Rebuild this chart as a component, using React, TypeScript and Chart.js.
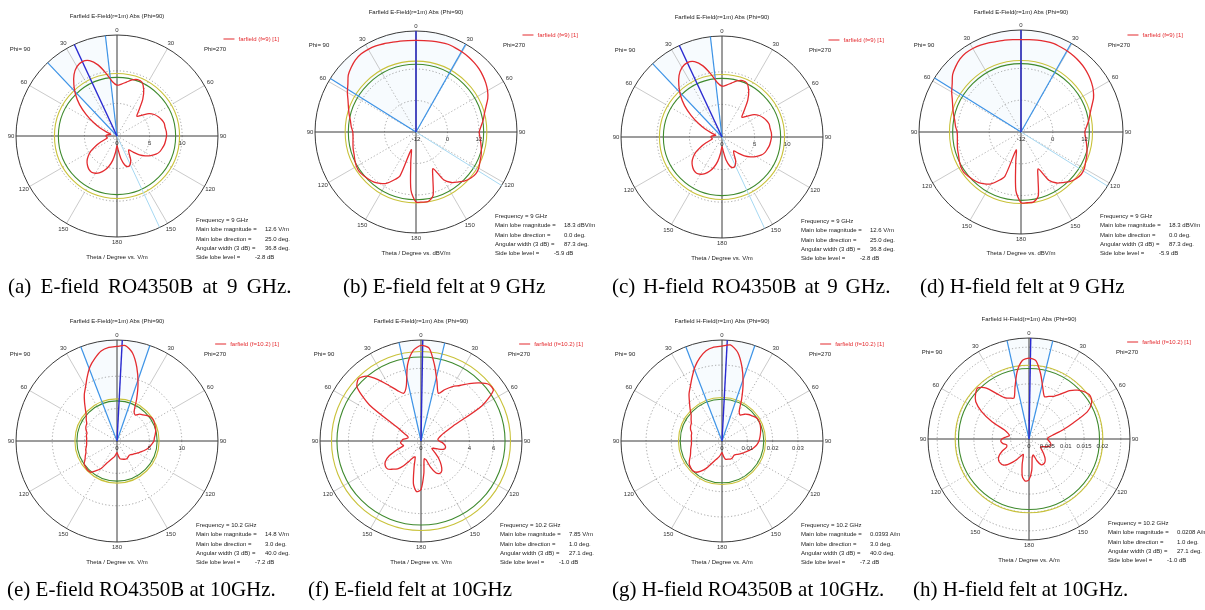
import React, { useEffect, useRef } from "react";
import { Chart, registerables } from "chart.js";

Chart.register(...registerables);

const SANS = '"Liberation Sans", Arial, sans-serif';
const SERIF = '"Liberation Serif", "Times New Roman", serif';
const RED = "#e42b2f";

// Theta categories: screen angle clockwise from the top, 5 degree steps (0..355)
const thetaDeg: string[] = Array.from({ length: 72 }, (_, i) => String(i * 5));

// (a) E-field RO4350B 9 GHz, V/m
const eFieldRO4350B_9GHz = [
  7.8, 8.0, 8.4, 8.9, 9.2, 9.1, 8.2, 6.9, 5.3, 4.3,
  4.9, 6.0, 6.6, 7.0, 7.3, 7.5, 7.5, 7.6, 7.6, 7.5,
  7.4, 7.2, 7.0, 6.6, 6.0, 5.3, 4.5, 3.5, 2.8, 3.2,
  4.2, 4.8, 5.0, 4.6, 3.6, 2.2, 1.5, 2.5, 3.8, 4.8,
  5.6, 6.2, 6.6, 6.8, 6.7, 6.4, 6.0, 5.4, 4.6, 3.6,
  2.6, 1.8, 1.5, 1.6, 1.7, 1.6, 1.2, 1.0, 1.5, 2.8,
  4.2, 5.8, 7.5, 9.0, 10.3, 11.5, 12.3, 12.6, 12.3, 11.3,
  9.8, 8.4,
];
// (b) E-field felt 9 GHz, dBV/m
const eFieldFelt_9GHz = [
  22.9, 23.0, 23.2, 23.4, 23.6, 23.4, 23.2, 22.9, 22.5, 22.0,
  21.3, 20.5, 19.5, 18.2, 16.4, 15.0, 14.0, 12.9, 12.1, 12.5,
  13.1, 13.8, 14.4, 14.9, 15.6, 15.8, 15.3, 14.4, 12.9, 11.5,
  9.0, 3.4, 6.8, 13.1, 14.9, 14.8, 14.7, 10.2, -0.6, -5.0,
  5.8, 8.3, 10.6, 11.9, 12.9, 13.5, 14.0, 14.4, 14.2, 13.7,
  13.1, 12.8, 12.4, 12.1, 12.1, 12.8, 13.4, 14.4, 15.4, 16.6,
  18.2, 19.7, 21.7, 22.9, 23.9, 24.4, 24.4, 24.2, 23.8, 23.4,
  23.2, 23.0,
];
// (c) H-field RO4350B 9 GHz (same trace as (a) in the figure)
const hFieldRO4350B_9GHz = eFieldRO4350B_9GHz;
// (d) H-field felt 9 GHz (same trace as (b) in the figure)
const hFieldFelt_9GHz = eFieldFelt_9GHz;
// (e) E-field RO4350B 10.2 GHz, V/m
const eFieldRO4350B_10GHz = [
  14.6, 14.8, 13.8, 11.8, 9.5, 7.2, 5.3, 4.9, 5.4, 5.7,
  6.1, 6.4, 6.5, 6.4, 6.3, 6.2, 6.0, 5.8, 5.7, 5.4,
  5.1, 4.8, 4.4, 4.0, 3.7, 3.4, 3.2, 3.0, 2.9, 3.0,
  3.1, 3.1, 3.0, 2.9, 2.8, 2.3, 1.8, 2.1, 2.5, 2.8,
  3.2, 3.8, 4.9, 5.6, 6.3, 6.4, 6.3, 6.2, 5.7, 5.4,
  5.1, 5.0, 4.8, 4.7, 4.7, 4.7, 4.8, 4.8, 5.1, 5.3,
  5.4, 5.8, 6.2, 6.9, 7.8, 8.8, 9.7, 10.9, 12.2, 13.2,
  14.1, 14.5,
];
// (f) E-field felt 10.2 GHz, V/m
const eFieldFelt_10GHz = [
  7.9, 7.7, 6.4, 5.1, 4.2, 4.7, 5.2, 5.6, 6.2, 6.8,
  7.3, 7.3, 5.8, 2.9, 2.1, 1.7, 1.5, 1.4, 1.5, 1.8,
  2.0, 2.1, 2.0, 1.6, 1.2, 1.1, 1.5, 2.1, 2.6, 3.0,
  3.1, 2.9, 2.3, 1.6, 1.5, 2.7, 4.0, 4.2, 3.6, 2.2,
  1.4, 1.5, 1.9, 2.5, 3.0, 3.3, 3.6, 3.6, 3.4, 2.9,
  2.1, 1.5, 1.6, 1.7, 1.6, 1.5, 1.2, 1.1, 1.2, 1.6,
  2.3, 5.2, 6.9, 7.3, 7.0, 6.2, 5.3, 4.6, 4.2, 4.7,
  6.4, 7.5,
];
// (g) H-field RO4350B 10.2 GHz, A/m
const hFieldRO4350B_10GHz = [
  0.0375, 0.0381, 0.0356, 0.0304, 0.0244, 0.0184, 0.0136, 0.0125, 0.0138, 0.0148,
  0.0155, 0.0163, 0.0166, 0.0165, 0.0162, 0.0158, 0.0154, 0.0150, 0.0146, 0.0140,
  0.0132, 0.0123, 0.0112, 0.0103, 0.0095, 0.0088, 0.0082, 0.0076, 0.0074, 0.0076,
  0.0079, 0.0079, 0.0076, 0.0075, 0.0072, 0.0059, 0.0046, 0.0053, 0.0063, 0.0072,
  0.0082, 0.0099, 0.0125, 0.0145, 0.0161, 0.0165, 0.0162, 0.0158, 0.0148, 0.0138,
  0.0132, 0.0128, 0.0124, 0.0121, 0.0121, 0.0121, 0.0123, 0.0124, 0.0132, 0.0137,
  0.0140, 0.0149, 0.0159, 0.0178, 0.0200, 0.0227, 0.0250, 0.0279, 0.0312, 0.0340,
  0.0362, 0.0372,
];
// (h) H-field felt 10.2 GHz, A/m
const hFieldFelt_10GHz = [
  0.0220, 0.0214, 0.0181, 0.0145, 0.0123, 0.0128, 0.0134, 0.0149, 0.0172, 0.0188,
  0.0199, 0.0204, 0.0197, 0.0175, 0.0128, 0.0095, 0.0068, 0.0054, 0.0050, 0.0054,
  0.0059, 0.0062, 0.0059, 0.0050, 0.0041, 0.0038, 0.0045, 0.0056, 0.0068, 0.0076,
  0.0079, 0.0077, 0.0063, 0.0045, 0.0050, 0.0086, 0.0111, 0.0115, 0.0104, 0.0072,
  0.0045, 0.0050, 0.0063, 0.0077, 0.0091, 0.0100, 0.0102, 0.0101, 0.0095, 0.0082,
  0.0065, 0.0063, 0.0072, 0.0077, 0.0074, 0.0063, 0.0054, 0.0059, 0.0071, 0.0111,
  0.0149, 0.0177, 0.0190, 0.0197, 0.0181, 0.0149, 0.0129, 0.0123, 0.0119, 0.0147,
  0.0186, 0.0214,
];

// Radial tick labels
const ticksVm = [0, 5, 10];
const ticksDb = [-12, 0, 12];
const ticksFelt10 = [0, 4, 6];
const ticksAm = [0, 0.01, 0.02, 0.03];
const ticksAmFelt = [0, 0.005, 0.01, 0.015, 0.02];

// Info boxes
const info9RO = ["9 GHz", "12.6 V/m", "25.0 deg.", "36.8 deg.", "-2.8 dB"];
const info9Felt = ["9 GHz", "18.3 dBV/m", "0.0 deg.", "87.3 deg.", "-5.9 dB"];
const info10RO_E = ["10.2 GHz", "14.8 V/m", "3.0 deg.", "40.0 deg.", "-7.2 dB"];
const info10Felt_E = ["10.2 GHz", "7.85 V/m", "1.0 deg.", "27.1 deg.", "-1.0 dB"];
const info10RO_H = ["10.2 GHz", "0.0393 A/m", "3.0 deg.", "40.0 deg.", "-7.2 dB"];
const info10Felt_H = ["10.2 GHz", "0.0208 A/m", "1.0 deg.", "27.1 deg.", "-1.0 dB"];

// Beam lines (screen degrees, clockwise from top): main lobe, 3 dB edges
const beam9RO = { main: 335, edges: [316.6, 353.4], opposite: 155 as number | null };
const beam9Felt = { main: 0, edges: [302, 29.5], opposite: 122 as number | null };
const beam10RO = { main: 3, edges: [339, 19], opposite: null as number | null };
const beam10Felt = { main: 1, edges: [347.4, 13.6], opposite: null as number | null };

const TITLE_E = "Farfield E-Field(r=1m) Abs (Phi=90)";
const TITLE_H = "Farfield H-Field(r=1m) Abs (Phi=90)";

type Spec = {
  id: string;
  cx: number; cy: number; R: number;
  min: number; max: number; step: number;
  series: number[]; ticks: number[];
  green: number; yellow: number;
  beam: { main: number; edges: number[]; opposite: number | null };
  title: string; legend: string; axisTitle: string; info: string[];
  caption: string; capX: number; capTop: number; capSpacing: number;
};

const specs: Spec[] = [
  { id: "a", cx: 117, cy: 136, R: 101, min: 0, max: 15.5, step: 5, series: eFieldRO4350B_9GHz, ticks: ticksVm,
    green: 9.0, yellow: 9.6, beam: beam9RO, title: TITLE_E, legend: "farfield (f=9) [1]",
    axisTitle: "Theta / Degree vs. V/m", info: info9RO, caption: "(a) E-field RO4350B at 9 GHz.", capX: 8, capTop: 276, capSpacing: 4 },
  { id: "b", cx: 416, cy: 132, R: 101, min: -12, max: 26.5, step: 12, series: eFieldFelt_9GHz, ticks: ticksDb,
    green: 13.8, yellow: 15.0, beam: beam9Felt, title: TITLE_E, legend: "farfield (f=9) [1]",
    axisTitle: "Theta / Degree vs. dBV/m", info: info9Felt, caption: "(b) E-field felt at 9 GHz", capX: 343, capTop: 276, capSpacing: 0 },
  { id: "c", cx: 722, cy: 137, R: 101, min: 0, max: 15.5, step: 5, series: hFieldRO4350B_9GHz, ticks: ticksVm,
    green: 9.0, yellow: 9.6, beam: beam9RO, title: TITLE_E, legend: "farfield (f=9) [1]",
    axisTitle: "Theta / Degree vs. V/m", info: info9RO, caption: "(c) H-field RO4350B at 9 GHz.", capX: 612, capTop: 276, capSpacing: 2.5 },
  { id: "d", cx: 1021, cy: 132, R: 102, min: -12, max: 26.5, step: 12, series: hFieldFelt_9GHz, ticks: ticksDb,
    green: 13.8, yellow: 15.0, beam: beam9Felt, title: TITLE_E, legend: "farfield (f=9) [1]",
    axisTitle: "Theta / Degree vs. dBV/m", info: info9Felt, caption: "(d) H-field felt at 9 GHz", capX: 920, capTop: 276, capSpacing: 0 },
  { id: "e", cx: 117, cy: 441, R: 101, min: 0, max: 15.6, step: 5, series: eFieldRO4350B_10GHz, ticks: ticksVm,
    green: 6.2, yellow: 6.5, beam: beam10RO, title: TITLE_E, legend: "farfield (f=10.2) [1]",
    axisTitle: "Theta / Degree vs. V/m", info: info10RO_E, caption: "(e) E-field RO4350B at 10GHz.", capX: 7, capTop: 579, capSpacing: 0 },
  { id: "f", cx: 421, cy: 441, R: 101, min: 0, max: 8.35, step: 2, series: eFieldFelt_10GHz, ticks: ticksFelt10,
    green: 6.95, yellow: 7.4, beam: beam10Felt, title: TITLE_E, legend: "farfield (f=10.2) [1]",
    axisTitle: "Theta / Degree vs. V/m", info: info10Felt_E, caption: "(f) E-field felt at 10GHz", capX: 308, capTop: 579, capSpacing: 0 },
  { id: "g", cx: 722, cy: 441, R: 101, min: 0, max: 0.0399, step: 0.01, series: hFieldRO4350B_10GHz, ticks: ticksAm,
    green: 0.0165, yellow: 0.0172, beam: beam10RO, title: TITLE_H, legend: "farfield (f=10.2) [1]",
    axisTitle: "Theta / Degree vs. A/m", info: info10RO_H, caption: "(g) H-field RO4350B at 10GHz.", capX: 612, capTop: 579, capSpacing: 0 },
  { id: "h", cx: 1029, cy: 439, R: 101, min: 0, max: 0.0275, step: 0.005, series: hFieldFelt_10GHz, ticks: ticksAmFelt,
    green: 0.0192, yellow: 0.0201, beam: beam10Felt, title: TITLE_H, legend: "farfield (f=10.2) [1]",
    axisTitle: "Theta / Degree vs. A/m", info: info10Felt_H, caption: "(h) H-field felt at 10GHz.", capX: 913, capTop: 579, capSpacing: 0 },
];

const INFO_LABELS = ["Frequency = ", "Main lobe magnitude =", "Main lobe direction =", "Angular width (3 dB) =", "Side lobe level ="];
const INFO_VALUE_X = [0, 69, 69, 69, 59];

const HALF = 120;

function makeDecor(s: Spec) {
  const rad = (d: number) => (d * Math.PI) / 180;
  return {
    id: "cstDecor",
    beforeDatasetsDraw(chart: any) {
      const sc = chart.scales.r;
      const ctx = chart.ctx as CanvasRenderingContext2D;
      const cx = sc.xCenter, cy = sc.yCenter, R = sc.drawingArea;
      const at = (deg: number, r: number) => [cx + r * Math.sin(rad(deg)), cy - r * Math.cos(rad(deg))];
      const line = (a: number[], b: number[]) => { ctx.beginPath(); ctx.moveTo(a[0], a[1]); ctx.lineTo(b[0], b[1]); ctx.stroke(); };
      const ring = (r: number) => { ctx.beginPath(); ctx.arc(cx, cy, r, 0, Math.PI * 2); ctx.stroke(); };
      ctx.save();
      // beam wedge (faint)
      ctx.beginPath();
      ctx.moveTo(cx, cy);
      ctx.arc(cx, cy, R, rad(s.beam.edges[0] - 90), rad(s.beam.edges[1] - 90), false);
      ctx.closePath();
      ctx.fillStyle = "rgba(150,200,240,0.08)";
      ctx.fill();
      // dotted rings at the scale ticks
      const rings = sc.ticks
        .map((t: any) => t.value)
        .filter((v: number) => v > sc.min + 1e-9 && R - sc.getDistanceFromCenterForValue(v) > 8);
      ctx.lineWidth = 0.8;
      ctx.setLineDash([1.2, 2.2]);
      ctx.strokeStyle = "#8c8c8c";
      rings.forEach((v: number) => ring(sc.getDistanceFromCenterForValue(v)));
      const rSolid = rings.length ? sc.getDistanceFromCenterForValue(rings[rings.length - 1]) : R * 0.6;
      // spokes every 30 degrees
      for (let k = 0; k < 12; k++) {
        if (k % 3 === 0) continue;
        const p0 = sc.getPointPosition(k * 6, 0);
        const p1 = sc.getPointPosition(k * 6, rSolid);
        const p2 = sc.getPointPosition(k * 6, R);
        ctx.setLineDash([1.2, 2.2]);
        ctx.strokeStyle = "#9a9a9a";
        line([p0.x, p0.y], [p1.x, p1.y]);
        ctx.setLineDash([]);
        ctx.strokeStyle = "#bdbdbd";
        line([p1.x, p1.y], [p2.x, p2.y]);
      }
      // main axes
      ctx.setLineDash([]);
      ctx.strokeStyle = "#3a3a3a";
      ctx.lineWidth = 1;
      line(at(270, R), at(90, R));
      line(at(0, R), at(180, R));
      // outer ring
      ring(R);
      // level circles
      ctx.lineWidth = 1.1;
      ctx.strokeStyle = "#c9c23a";
      ring(sc.getDistanceFromCenterForValue(s.yellow));
      ctx.strokeStyle = "#3f8a2e";
      ring(sc.getDistanceFromCenterForValue(s.green));
      // beam lines
      if (s.beam.opposite !== null) {
        ctx.strokeStyle = "#a6d8f2";
        ctx.lineWidth = 1;
        line([cx, cy], at(s.beam.opposite, R));
      }
      ctx.strokeStyle = "#3d93e6";
      ctx.lineWidth = 1.2;
      s.beam.edges.forEach((e) => line([cx, cy], at(e, R)));
      ctx.strokeStyle = "#2a2ad0";
      ctx.lineWidth = 1.4;
      line([cx, cy], at(s.beam.main, R));
      ctx.restore();
    },
    afterDatasetsDraw(chart: any) {
      const sc = chart.scales.r;
      const ctx = chart.ctx as CanvasRenderingContext2D;
      const cx = sc.xCenter, cy = sc.yCenter, R = sc.drawingArea;
      ctx.save();
      ctx.font = `6px ${SANS}`;
      ctx.fillStyle = "#333";
      ctx.textAlign = "center";
      ctx.textBaseline = "middle";
      for (let k = 0; k < 12; k++) {
        const deg = k * 30;
        const txt = String(deg <= 180 ? deg : 360 - deg);
        const off = R + 5 + 1.8 * Math.abs(Math.sin((2 * deg * Math.PI) / 180));
        const p = sc.getPointPosition(k * 6, off);
        ctx.fillText(txt, p.x, p.y);
      }
      s.ticks.forEach((v) => {
        ctx.fillText(String(v), cx + sc.getDistanceFromCenterForValue(v), cy + 7);
      });
      ctx.restore();
    },
  };
}

function Txt(props: { x: number; y: number; align?: string; color?: string; size?: number; children: any }) {
  const { x, y, align = "center", color = "#222", size = 6, children } = props;
  const tr = align === "center" ? "translate(-50%,-50%)" : align === "right" ? "translate(-100%,-50%)" : "translateY(-50%)";
  return (
    <div style={{ position: "absolute", left: x, top: y, transform: tr, fontFamily: SANS, fontSize: size,
      lineHeight: `${size + 1}px`, whiteSpace: "pre", color }}>{children}</div>
  );
}

function Panel({ s }: { s: Spec }) {
  const ref = useRef<HTMLCanvasElement>(null);
  useEffect(() => {
    const canvas = ref.current as HTMLCanvasElement;
    const pad = HALF - s.R;
    const chart = new Chart(canvas, {
      type: "radar",
      data: {
        labels: thetaDeg,
        datasets: [{
          data: s.series,
          borderColor: RED,
          backgroundColor: "transparent",
          borderWidth: 1.3,
          pointRadius: 0,
          fill: false,
          tension: 0.25,
        }],
      },
      options: {
        responsive: false,
        animation: false,
        events: [],
        layout: { padding: { left: pad, right: pad, top: pad, bottom: pad } },
        plugins: { legend: { display: false }, tooltip: { enabled: false }, title: { display: false } },
        scales: {
          r: {
            min: s.min,
            max: s.max,
            ticks: { display: false, stepSize: s.step },
            grid: { display: false },
            angleLines: { display: false },
            pointLabels: { display: false },
          },
        },
      } as any,
      plugins: [makeDecor(s) as any],
    });
    return () => chart.destroy();
  }, [s]);
  const { cx, cy } = s;
  return (
    <>
      <canvas ref={ref} width={HALF * 2} height={HALF * 2}
        style={{ position: "absolute", left: cx - HALF, top: cy - HALF, width: HALF * 2, height: HALF * 2 }} />
      <Txt x={cx} y={cy - 120}>{s.title}</Txt>
      <Txt x={cx - 97} y={cy - 87}>{"Phi= 90"}</Txt>
      <Txt x={cx + 98} y={cy - 87}>{"Phi=270"}</Txt>
      <div style={{ position: "absolute", left: cx + 162, top: cy - 97, transform: "translate(-100%,-50%)",
        display: "flex", alignItems: "center", whiteSpace: "pre", fontFamily: SANS, fontSize: 6, lineHeight: "7px", color: RED }}>
        <span style={{ display: "inline-block", width: 11, height: 0, borderTop: `1.2px solid ${RED}`, marginRight: 4 }} />
        {s.legend}
      </div>
      <Txt x={cx} y={cy + 121}>{s.axisTitle}</Txt>
      {s.info.map((v, i) => (
        i === 0 ? (
          <Txt key={i} x={cx + 79} y={cy + 84} align="left">{INFO_LABELS[0] + v}</Txt>
        ) : (
          <React.Fragment key={i}>
            <Txt x={cx + 79} y={cy + 84 + i * 9.3} align="left">{INFO_LABELS[i]}</Txt>
            <Txt x={cx + 79 + INFO_VALUE_X[i]} y={cy + 84 + i * 9.3} align="left">{v}</Txt>
          </React.Fragment>
        )
      ))}
      <div style={{ position: "absolute", left: s.capX, top: s.capTop, fontFamily: SERIF, fontSize: 21,
        lineHeight: "21px", whiteSpace: "nowrap", color: "#000", wordSpacing: s.capSpacing }}>{s.caption}</div>
    </>
  );
}

export default function App() {
  return (
    <div style={{ position: "absolute", left: 0, top: 0, width: 1205, height: 610, background: "#fff", overflow: "hidden" }}>
      {specs.map((s) => <Panel key={s.id} s={s} />)}
    </div>
  );
}
